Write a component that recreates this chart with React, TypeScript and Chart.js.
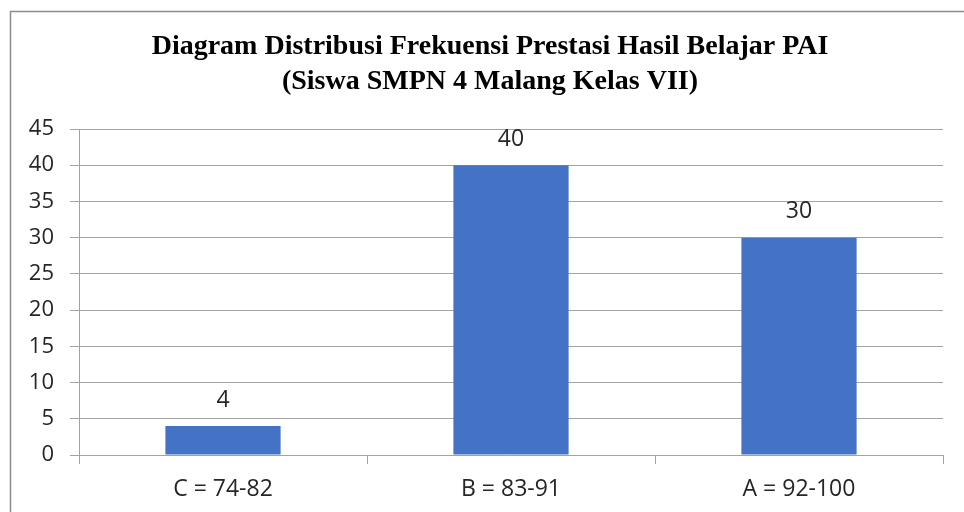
import React, { useEffect, useRef } from "react";
import { Chart, registerables } from "chart.js";

Chart.register(...registerables);

const titleLines = [
  "Diagram Distribusi Frekuensi Prestasi Hasil Belajar PAI",
  "(Siswa SMPN 4 Malang Kelas VII)",
];
const categories = ["C = 74-82", "B = 83-91", "A = 92-100"];
const frequencies = [4, 40, 30];
const yMin = 0;
const yMax = 45;
const yStep = 5;

const TEXT = "#262626";
const GRID = "#a3a3a3";
const SANS = "'Open Sans', 'Noto Sans', sans-serif";

const framePlugin = {
  id: "frame",
  beforeDraw(chart: any) {
    const ctx = chart.ctx;
    ctx.save();
    ctx.fillStyle = "#ffffff";
    ctx.fillRect(0, 0, chart.width, chart.height);
    ctx.strokeStyle = "#8c8c8c";
    ctx.lineWidth = 1.5;
    ctx.beginPath();
    ctx.moveTo(10.5, chart.height + 5);
    ctx.lineTo(10.5, 11.5);
    ctx.lineTo(chart.width + 5, 11.5);
    ctx.stroke();
    ctx.restore();
  },
};

const titlePlugin = {
  id: "customTitle",
  afterDraw(chart: any) {
    const ctx = chart.ctx;
    ctx.save();
    ctx.fillStyle = "#000000";
    ctx.font = "bold 28px 'Liberation Serif', 'Times New Roman', serif";
    ctx.textAlign = "center";
    ctx.textBaseline = "middle";
    ctx.fillText(titleLines[0], 490, 47);
    ctx.fillText(titleLines[1], 490, 82);
    ctx.restore();
  },
};

const dataLabelPlugin = {
  id: "dataLabels",
  afterDatasetsDraw(chart: any) {
    const ctx = chart.ctx;
    const meta = chart.getDatasetMeta(0);
    ctx.save();
    ctx.fillStyle = TEXT;
    ctx.font = `23px ${SANS}`;
    ctx.textAlign = "center";
    ctx.textBaseline = "middle";
    meta.data.forEach((bar: any, i: number) => {
      ctx.fillText(String(frequencies[i]), bar.x, bar.y - 26);
    });
    ctx.restore();
  },
};

export default function App() {
  const canvasRef = useRef<HTMLCanvasElement | null>(null);

  useEffect(() => {
    document.body.style.margin = "0";
    const canvas = canvasRef.current;
    if (!canvas) return;
    const chart = new Chart(canvas, {
      type: "bar",
      data: {
        labels: categories,
        datasets: [
          {
            data: frequencies,
            backgroundColor: "#4472c4",
            borderWidth: 0,
            categoryPercentage: 1,
            barPercentage: 0.4,
          },
        ],
      },
      options: {
        animation: false,
        responsive: false,
        maintainAspectRatio: false,
        layout: { padding: { top: 129, right: 21, bottom: 0, left: 0 } },
        plugins: {
          legend: { display: false },
          title: { display: false },
          tooltip: { enabled: false },
        },
        scales: {
          x: {
            grid: {
              display: true,
              drawOnChartArea: false,
              drawTicks: true,
              tickLength: 9,
              color: GRID,
              offset: true,
            },
            border: { display: true, color: GRID, width: 1 },
            ticks: {
              color: TEXT,
              font: { family: SANS, size: 23 },
              padding: 12,
              maxRotation: 0,
            },
            afterFit: (s: any) => {
              s.height = 57;
            },
          },
          y: {
            min: yMin,
            max: yMax,
            grid: {
              color: GRID,
              drawTicks: true,
              tickLength: 9,
            },
            border: { display: true, color: GRID, width: 1 },
            ticks: {
              stepSize: yStep,
              color: TEXT,
              font: { family: SANS, size: 22 },
              padding: 16,
            },
            afterFit: (s: any) => {
              s.width = 79;
            },
          },
        },
      },
      plugins: [framePlugin, titlePlugin, dataLabelPlugin],
    });
    return () => chart.destroy();
  }, []);

  return (
    <div style={{ position: "absolute", left: 0, top: 0, width: 964, height: 512 }}>
      <canvas ref={canvasRef} width={964} height={512} style={{ width: 964, height: 512, display: "block" }} />
    </div>
  );
}
